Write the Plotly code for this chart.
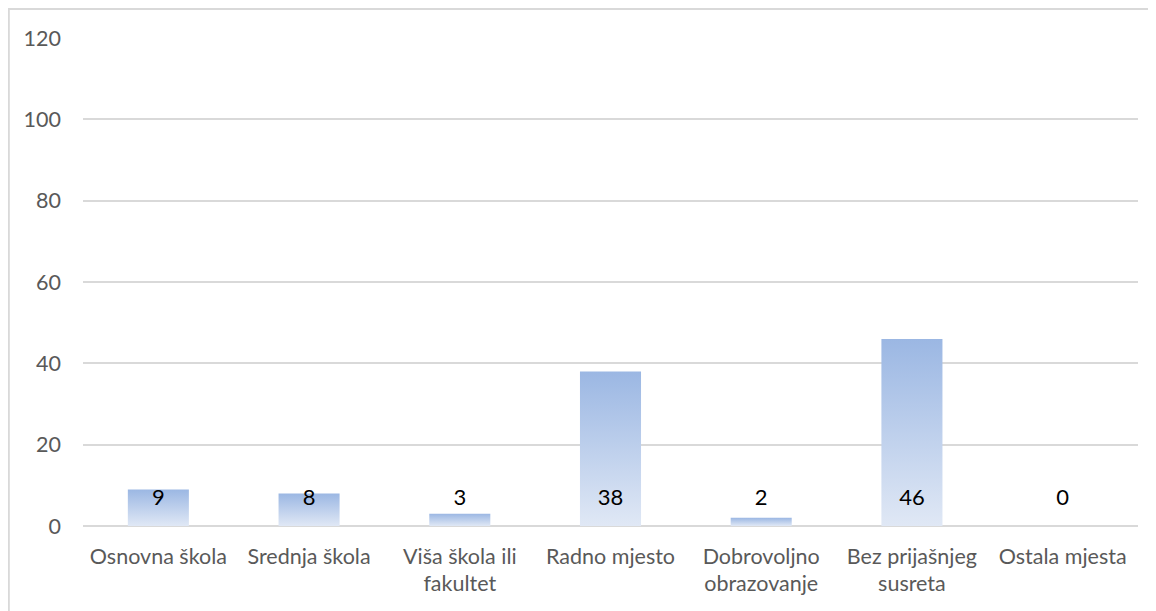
import plotly.graph_objects as go

categories = ["Osnovna škola", "Srednja škola", "Viša škola ili<br>fakultet", "Radno mjesto",
              "Dobrovoljno<br>obrazovanje", "Bez prijašnjeg<br>susreta", "Ostala mjesta"]
values = [9, 8, 3, 38, 2, 46, 0]
y_ticks = [0, 20, 40, 60, 80, 100, 120]

# page body has an 8px margin; figure placed at (8, 8)
W, H = 1148, 603
L, R, T, B = 75, 18, 30, 85
BAR_HALF = 0.2025
LABEL_Y = 6.6
FONT = "Lato"

fig = go.Figure()
for i, v in enumerate(values):
    if v <= 0:
        continue
    fig.add_trace(go.Scatter(
        x=[i - BAR_HALF, i + BAR_HALF], y=[v, v],
        mode="lines", line=dict(width=0),
        fill="tozeroy",
        fillgradient=dict(type="vertical", start=0, stop=v,
                          colorscale=[[0, "#E0E8F5"], [1, "#9BB7E3"]]),
        hoverinfo="skip", showlegend=False))

fig.add_trace(go.Scatter(
    x=list(range(len(values))), y=[LABEL_Y] * len(values),
    mode="text", text=[str(v) for v in values],
    textposition="middle center",
    textfont=dict(family=FONT, size=22, color="#000000"),
    hoverinfo="skip", showlegend=False))

# chart border (left and top edges visible)
pw, ph = W - L - R, H - T - B
def px_x(p): return (p - L) / pw
def px_y(p): return (H - B - p) / ph
fig.add_shape(type="line", xref="paper", yref="paper",
              x0=px_x(0.8), x1=px_x(0.8), y0=px_y(1), y1=px_y(H + 5),
              line=dict(color="#D9D9D9", width=2))
fig.add_shape(type="line", xref="paper", yref="paper",
              x0=px_x(0), x1=px_x(W + 5), y0=px_y(1), y1=px_y(1),
              line=dict(color="#D9D9D9", width=2))

fig.update_layout(
    width=W, height=H,
    margin=dict(l=L, r=R, t=T, b=B, autoexpand=False),
    plot_bgcolor="white", paper_bgcolor="white",
    font=dict(family=FONT, size=22, color="#595959"),
    xaxis=dict(range=[-0.5, len(values) - 0.5], tickmode="array",
               tickvals=list(range(len(values))), ticktext=categories,
               showgrid=False, zeroline=False, showline=False, ticks="",
               tickfont=dict(family=FONT, size=21.5, color="#595959"),
               ticklabelstandoff=15, fixedrange=True),
    yaxis=dict(range=[0, 120], tickmode="array", tickvals=y_ticks,
               showgrid=True, gridcolor="#D9D9D9", gridwidth=2,
               zeroline=True, zerolinecolor="#D9D9D9", zerolinewidth=2,
               showline=False, ticks="",
               tickfont=dict(family=FONT, size=21.5, color="#595959"),
               ticklabelstandoff=21, fixedrange=True),
)

fig.write_html("out.html")
